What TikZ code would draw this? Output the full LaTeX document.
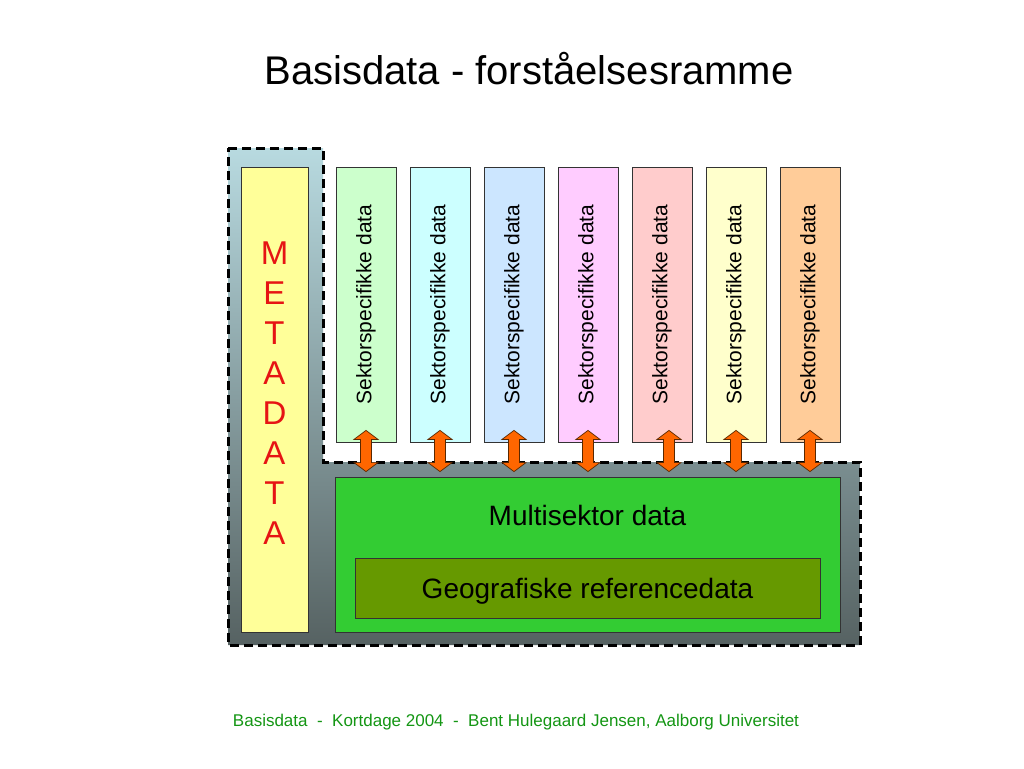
\documentclass[tikz,border=0pt]{standalone}
\usepackage{fontspec}
\setmainfont{Liberation Sans}
\usepackage{graphicx}
\usetikzlibrary{calc}
\definecolor{bgtop}{RGB}{184,218,224}
\definecolor{bgmid}{RGB}{156,180,184}
\definecolor{bgbot}{RGB}{86,98,98}
\definecolor{metafill}{RGB}{255,255,153}
\definecolor{metared}{RGB}{230,20,20}
\definecolor{sA}{RGB}{204,255,204}
\definecolor{sB}{RGB}{204,255,255}
\definecolor{sC}{RGB}{204,230,255}
\definecolor{sD}{RGB}{255,204,255}
\definecolor{sE}{RGB}{255,204,204}
\definecolor{sF}{RGB}{255,255,204}
\definecolor{sG}{RGB}{255,204,153}
\definecolor{multifill}{RGB}{51,204,51}
\definecolor{geofill}{RGB}{102,153,0}
\definecolor{arrfill}{RGB}{255,102,0}
\definecolor{arrline}{RGB}{90,40,0}
\definecolor{footgreen}{RGB}{20,150,20}
\tikzset{
  boxstyle/.style={draw=black!80, line width=0.8pt, inner sep=0pt, rectangle},
  sektorbox/.style={boxstyle, minimum width=60pt, minimum height=275pt,
     font=\fontsize{21}{25}\selectfont},
  lborder/.style={draw=black, line width=3pt, dash pattern=on 9pt off 5pt},
  blockarrow/.style={fill=arrfill, draw=arrline, line width=0.7pt, line join=miter},
}
% #1 upper node, #2 lower node, #3 x offset (pt)
\newcommand{\dblarrow}[3]{%
  \path[blockarrow] let \p1=(#1.south), \p2=(#2.north),
     \n1={\x1+#3pt}, \n2={\y1+12pt}, \n3={\y2+5pt} in
     (\n1,\n2) -- (\n1+12pt,\n2-9pt) -- (\n1+5.5pt,\n2-9pt) -- (\n1+5.5pt,\n3+9pt)
     -- (\n1+12pt,\n3+9pt) -- (\n1,\n3) -- (\n1-12pt,\n3+9pt) -- (\n1-5.5pt,\n3+9pt)
     -- (\n1-5.5pt,\n2-9pt) -- (\n1-12pt,\n2-9pt) -- cycle;}
\begin{document}
\begin{tikzpicture}[x=1pt,y=-1pt]
\fill[white] (0,0) rectangle (1024,768);
\useasboundingbox (0,0) rectangle (1024,768);

\node[font=\fontsize{40}{48}\selectfont] (title) at (529,69) {Basisdata - forståelsesramme};

% L-shaped background
\path[top color=bgtop, middle color=bgmid, bottom color=bgbot]
  (228,148) -- (323,148) -- (323,462) -- (860,462) -- (860,645) -- (228,645) -- cycle;
\path[lborder]
  (228,148) -- (323,148) -- (323,462) -- (860,462) -- (860,645) -- (228,645) -- cycle;

% Metadata
\node[boxstyle, fill=metafill, minimum width=67pt, minimum height=465pt] (meta) at (274.5,399.5) {};
\node[text=metared, font=\fontsize{33}{40}\selectfont, align=center, inner sep=0pt] (metatext) at (274.5,393.5)
  {M\\E\\T\\A\\D\\A\\T\\A};

% Sector boxes
\node[sektorbox, fill=sA] (s1) at (366,304.5) {\rotatebox{90}{Sektorspecifikke data}};
\node[sektorbox, fill=sB] (s2) at (440,304.5) {\rotatebox{90}{Sektorspecifikke data}};
\node[sektorbox, fill=sC] (s3) at (514,304.5) {\rotatebox{90}{Sektorspecifikke data}};
\node[sektorbox, fill=sD] (s4) at (588,304.5) {\rotatebox{90}{Sektorspecifikke data}};
\node[sektorbox, fill=sE] (s5) at (662,304.5) {\rotatebox{90}{Sektorspecifikke data}};
\node[sektorbox, fill=sF] (s6) at (736,304.5) {\rotatebox{90}{Sektorspecifikke data}};
\node[sektorbox, fill=sG] (s7) at (810,304.5) {\rotatebox{90}{Sektorspecifikke data}};

% Multisector
\node[boxstyle, fill=multifill, minimum width=505pt, minimum height=155pt] (multi) at (587.5,554.5) {};
\node[font=\fontsize{28}{32}\selectfont, inner sep=0pt] (multitext) at ($(multi.north)+(0,39)$) {Multisektor data};
\node[boxstyle, fill=geofill, minimum width=465pt, minimum height=60pt] (geo) at (587.5,588) {};
\node[font=\fontsize{28}{32}\selectfont, inner sep=0pt] (geotext) at ($(geo.center)+(0,3)$) {Geografiske referencedata};

% Arrows
\dblarrow{s1}{multi}{0}
\dblarrow{s2}{multi}{0}
\dblarrow{s3}{multi}{0}
\dblarrow{s4}{multi}{0}
\dblarrow{s5}{multi}{7}
\dblarrow{s6}{multi}{0}
\dblarrow{s7}{multi}{0}

% Footer
\node[text=footgreen, font=\fontsize{17}{20}\selectfont] (footer) at (516,722)
  {Basisdata\ \ -\ \ Kortdage 2004\ \ -\ \ Bent Hulegaard Jensen, Aalborg Universitet};
\end{tikzpicture}
\end{document}
